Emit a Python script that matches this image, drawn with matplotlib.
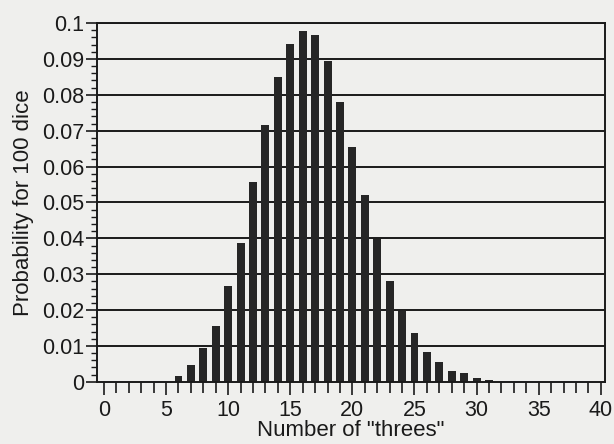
import matplotlib
matplotlib.use("Agg")
import matplotlib.pyplot as plt
from matplotlib.ticker import MultipleLocator

# number of "threes" and probability
threes = [5, 6, 7, 8, 9, 10, 11, 12, 13, 14, 15, 16, 17, 18, 19, 20,
          21, 22, 23, 24, 25, 26, 27, 28, 29, 30, 31]
prob = [0.0, 0.0017, 0.0047, 0.0094, 0.0157, 0.0267, 0.0386, 0.0556, 0.0716,
        0.0849, 0.0943, 0.0979, 0.0967, 0.0894, 0.0781, 0.0655, 0.0521, 0.0397,
        0.0282, 0.0198, 0.0136, 0.0083, 0.0055, 0.0031, 0.0024, 0.0012, 0.0004]
x_ticks = [0, 5, 10, 15, 20, 25, 30, 35, 40]
y_ticks = [0, 0.01, 0.02, 0.03, 0.04, 0.05, 0.06, 0.07, 0.08, 0.09, 0.1]
y_labels = ["0", "0.01", "0.02", "0.03", "0.04", "0.05", "0.06", "0.07", "0.08", "0.09", "0.1"]

plt.rcParams["font.family"] = ["Liberation Sans", "DejaVu Sans"]

fig = plt.figure(figsize=(6.14, 4.44), dpi=100, facecolor="#efefed")
ax = fig.add_axes([0.158, 0.14, 0.827, 0.808])
ax.set_facecolor("#efefed")

for yv in y_ticks[1:]:
    ax.axhline(yv, color="#1a1a1a", linewidth=1.4, zorder=1)

ax.bar(threes, prob, width=0.64, color="#262626", zorder=2)

ax.set_xlim(-0.56, 40.32)
ax.set_ylim(0, 0.1)
ax.set_xticks(x_ticks)
ax.set_yticks(y_ticks)
ax.set_yticklabels(y_labels)
ax.xaxis.set_minor_locator(MultipleLocator(1))
ax.yaxis.set_minor_locator(MultipleLocator(0.002))

ax.tick_params(axis="both", which="major", direction="out", length=8, width=1.2,
               labelsize=15.5, color="#1a1a1a", labelcolor="#1a1a1a", pad=1)
ax.tick_params(axis="x", which="major", length=9, pad=4)
ax.tick_params(axis="x", which="minor", direction="out", length=8, width=1.2, color="#1a1a1a")
ax.tick_params(axis="y", which="minor", direction="out", length=4, width=1.0, color="#1a1a1a")

for s in ax.spines.values():
    s.set_linewidth(1.4)
    s.set_color("#1a1a1a")

ax.set_xlabel('Number of "threes"', fontsize=16, color="#1a1a1a", labelpad=-1)
ax.set_ylabel("Probability for 100 dice", fontsize=16, color="#1a1a1a", labelpad=6)

fig.savefig("out.png", dpi=100, facecolor=fig.get_facecolor())
